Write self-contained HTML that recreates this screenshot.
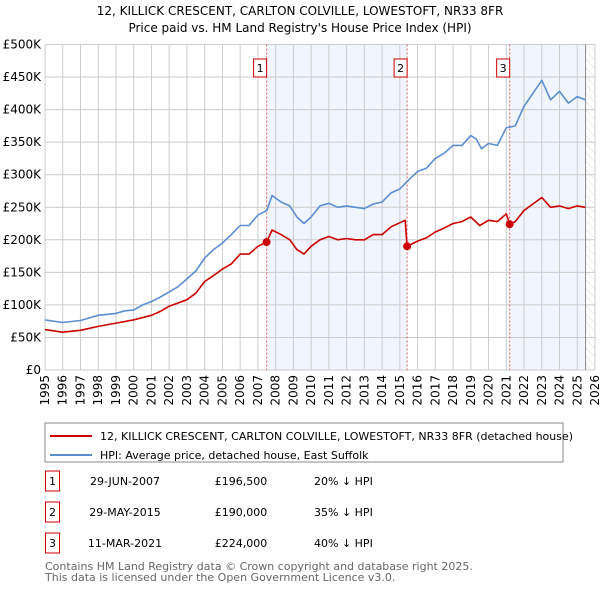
<!DOCTYPE html>
<html><head><meta charset="utf-8"><style>
body{margin:0;background:#fff;font-family:"Liberation Sans",sans-serif;}
svg text{font-family:"DejaVu Sans","Liberation Sans",sans-serif;}
</style></head><body>
<svg id="c" width="600" height="590" xmlns="http://www.w3.org/2000/svg">
<defs><pattern id="hatch" width="6" height="6" patternUnits="userSpaceOnUse" patternTransform="rotate(-45)"><line x1="0" y1="0" x2="0" y2="6" stroke="#ccc" stroke-width="0.7"/></pattern></defs>
<text x="300" y="15" text-anchor="middle" font-size="12">12, KILLICK CRESCENT, CARLTON COLVILLE, LOWESTOFT, NR33 8FR</text>
<text x="300" y="32" text-anchor="middle" font-size="12">Price paid vs. HM Land Registry's House Price Index (HPI)</text>
<g id="plot"></g>
<rect x="45" y="423" width="518" height="39" fill="none" stroke="#888"/>
<line x1="50" y1="436" x2="92" y2="436" stroke="#cc0000" stroke-width="2"/>
<text x="100" y="440" font-size="11">12, KILLICK CRESCENT, CARLTON COLVILLE, LOWESTOFT, NR33 8FR (detached house)</text>
<line x1="50" y1="455" x2="92" y2="455" stroke="#5b8ed0" stroke-width="2"/>
<text x="100" y="459" font-size="11">HPI: Average price, detached house, East Suffolk</text>
<g id="table"></g>
<text x="45" y="570" font-size="11" fill="#666">Contains HM Land Registry data © Crown copyright and database right 2025.</text>
<text x="45" y="581" font-size="11" fill="#666">This data is licensed under the Open Government Licence v3.0.</text>
</svg>
<script>
const hpiYears=[1995,1996,1997,1997.5,1998,1999,1999.5,2000,2000.5,2001,2001.5,2002,2002.5,2003,2003.5,2004,2004.5,2005,2005.5,2006,2006.5,2007,2007.5,2007.8,2008.3,2008.8,2009.2,2009.6,2010,2010.5,2011,2011.5,2012,2012.5,2013,2013.5,2014,2014.5,2015,2015.5,2016,2016.5,2017,2017.5,2018,2018.5,2019,2019.3,2019.6,2020,2020.5,2021,2021.5,2022,2022.5,2023,2023.5,2024,2024.5,2025,2025.45];
const hpiValues=[77,73,76,80,84,87,91,92,100,105,112,120,128,140,152,172,185,195,208,222,222,238,245,268,258,252,235,225,235,252,256,250,252,250,248,255,258,272,278,292,305,310,325,333,345,345,360,355,340,348,345,372,375,405,425,445,415,428,410,420,415];
const propYears=[1995,1996,1997,1998,1999,2000,2001,2001.5,2002,2003,2003.5,2004,2004.5,2005,2005.5,2006,2006.5,2007,2007.49,2007.8,2008.3,2008.8,2009.2,2009.6,2010,2010.5,2011,2011.5,2012,2012.5,2013,2013.5,2014,2014.5,2015.3,2015.41,2016,2016.5,2017,2017.5,2018,2018.5,2019,2019.5,2020,2020.5,2021.0,2021.19,2021.5,2022,2022.5,2023,2023.5,2024,2024.5,2025,2025.45];
const propValues=[62,58,61,67,72,77,84,90,98,108,118,136,145,155,163,178,178,190,196.5,215,208,200,185,178,190,200,205,200,202,200,200,208,208,220,230,190,198,203,212,218,225,228,235,222,230,228,240,224,228,245,255,265,250,252,248,252,250];
const saleYears=[2007.49,2015.41,2021.19];
const salePrices=[196.5,190,224];
const saleLabels=["1","2","3"];
const saleDates=["29-JUN-2007","29-MAY-2015","11-MAR-2021"];
const salePriceText=["£196,500","£190,000","£224,000"];
const saleHpiText=["20% ↓ HPI","35% ↓ HPI","40% ↓ HPI"];
const yTicks=[0,50,100,150,200,250,300,350,400,450,500];
const yTickLabels=["£0","£50K","£100K","£150K","£200K","£250K","£300K","£350K","£400K","£450K","£500K"];
const xTicks=[1995,1996,1997,1998,1999,2000,2001,2002,2003,2004,2005,2006,2007,2008,2009,2010,2011,2012,2013,2014,2015,2016,2017,2018,2019,2020,2021,2022,2023,2024,2025,2026];
const dataEnd=2025.47;

const L=45,R=595,T=44.5,B=370,X0=1995,X1=2026;
const xs=v=>L+(v-X0)/(X1-X0)*(R-L);
const ys=v=>B-v/500*(B-T);
const NS="http://www.w3.org/2000/svg";
const g=document.getElementById('plot');
function mk(tag,attrs,parent){const e=document.createElementNS(NS,tag);for(const k in attrs)e.setAttribute(k,attrs[k]);(parent||g).appendChild(e);return e;}

let bg=mk('rect',{x:L,y:T,width:R-L,height:B-T,fill:'#fff'});


const shades=[[saleYears[0],saleYears[1]],[saleYears[2],dataEnd]];
shades.forEach((s,i)=>{
  const r=mk('rect',{x:xs(s[0]),y:T,width:xs(s[1])-xs(s[0]),height:B-T,fill:'#f1f5fd'});
  
  
});
const h=mk('rect',{x:xs(dataEnd),y:T,width:R-xs(dataEnd),height:B-T,fill:'url(#hatch)'});


yTicks.forEach((v,i)=>{
  const l=mk('line',{x1:L,x2:R,y1:ys(v),y2:ys(v),stroke:'#ccc','stroke-width':1});
  
  
  const t=mk('text',{x:L-4,y:ys(v)+4,'text-anchor':'end','font-size':12});
  t.textContent=yTickLabels[i];
  
  
});
xTicks.forEach(v=>{
  const l=mk('line',{x1:xs(v),x2:xs(v),y1:T,y2:B,stroke:'#ccc','stroke-width':1});
  
  
  const t=mk('text',{x:0,y:0,'font-size':12,'text-anchor':'end',transform:`translate(${xs(v)+4},${B+5}) rotate(-90)`});
  t.textContent=v;
  
  
});
const ed=mk('line',{x1:xs(dataEnd),x2:xs(dataEnd),y1:T,y2:B,stroke:'#888','stroke-width':1});


saleYears.forEach((yr,i)=>{
  const l=mk('line',{x1:xs(yr),x2:xs(yr),y1:T,y2:B,stroke:'#e06060','stroke-width':1,'stroke-dasharray':'2,2'});
  
  
  const b=mk('rect',{x:xs(yr)-13,y:59,width:13,height:18,fill:'#fff',stroke:'#cc0000'});
  
  
  const t=mk('text',{x:xs(yr)-6.5,y:72,'text-anchor':'middle','font-size':11});
  t.textContent=saleLabels[i];
  
  
});
function path(xa,va,color,name){
  const d=xa.map((x,i)=>(i?'L':'M')+xs(x).toFixed(1)+','+ys(va[i]).toFixed(1)).join('');
  const p=mk('path',{d:d,fill:'none',stroke:color,'stroke-width':1.6,'stroke-linejoin':'round'});
  
  
}
path(hpiYears,hpiValues,'#5b8ed0','hpi-line');
path(propYears,propValues,'#cc0000','property-price-line');
saleYears.forEach((yr,i)=>{
  const c=mk('circle',{cx:xs(yr),cy:ys(salePrices[i]),r:4,fill:'#cc0000'});
  
  
});
const tg=document.getElementById('table');
const rowY=[481,512,543];
saleLabels.forEach((lab,i)=>{
  const b=mk('rect',{x:45.5,y:rowY[i]-10,width:14,height:20,fill:'#fff',stroke:'#cc0000'},tg);
  
  
  const cells=[[52.5,lab,'middle'],[125,saleDates[i],'middle'],[241,salePriceText[i],'middle'],[314,saleHpiText[i],'start']];
  cells.forEach(c=>{
    const t=mk('text',{x:c[0],y:rowY[i]+4,'text-anchor':c[2],'font-size':11},tg);
    t.textContent=c[1];
    
    
  });
});
</script>
</body></html>
